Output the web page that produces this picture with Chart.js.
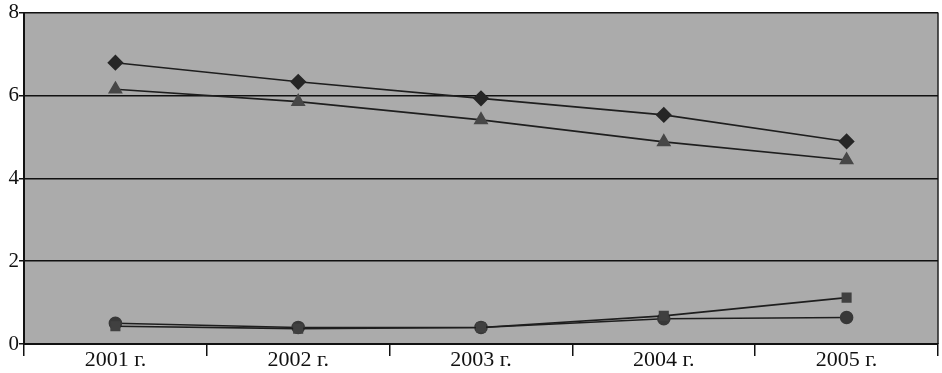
<!DOCTYPE html>
<html>
<head>
<meta charset="utf-8">
<script src="https://cdn.jsdelivr.net/npm/chart.js@4.4.0/dist/chart.umd.min.js"></script>
<style>
  html, body { margin: 0; padding: 0; background: #fff; }
  #wrap { width: 942px; height: 373px; }
</style>
</head>
<body>
<div id="wrap"><canvas id="lineChart" width="942" height="373"></canvas></div>
<script>
// data
const years = ["2001 г.", "2002 г.", "2003 г.", "2004 г.", "2005 г."];
const diamondSeries = [6.79, 6.33, 5.93, 5.53, 4.89];
const triangleSeries = [6.15, 5.85, 5.41, 4.88, 4.44];
const squareSeries = [0.43, 0.37, 0.4, 0.68, 1.12];
const circleSeries = [0.5, 0.4, 0.4, 0.61, 0.64];
const yTicks = [0, 2, 4, 6, 8];

/* grey plot area like the scan */
const plotBg = {
  id: 'plotBg',
  beforeDraw(chart) {
    const { ctx, chartArea: a } = chart;
    ctx.save();
    ctx.fillStyle = '#ababab';
    ctx.fillRect(a.left, a.top, a.right - a.left, a.bottom - a.top);
    ctx.strokeStyle = '#222';
    ctx.lineWidth = 1.5;
    ctx.beginPath();
    ctx.moveTo(a.right, a.top);
    ctx.lineTo(a.right, a.bottom);
    ctx.stroke();
    ctx.restore();
  }
};

const mkSet = (label, data, style, color, size) => ({
  label: label,
  data: data,
  borderColor: '#1e1e1e',
  borderWidth: 1.6,
  pointStyle: style,
  pointRadius: size,
  pointBackgroundColor: color,
  pointBorderColor: color,
  tension: 0
});

var ctx = document.getElementById('lineChart').getContext('2d');
new Chart(ctx, {
  type: 'line',
  data: {
    labels: years,
    datasets: [
      mkSet('diamond', diamondSeries, 'rectRot', '#262626', 7),
      mkSet('triangle', triangleSeries, 'triangle', '#474747', 7),
      mkSet('square', squareSeries, 'rect', '#404040', 6),
      mkSet('circle', circleSeries, 'circle', '#383838', 6)
    ]
  },
  options: {
    responsive: false,
    animation: false,
    layout: { autoPadding: false, padding: { top: 8, right: 4, left: 0, bottom: 0 } },
    plugins: { legend: { display: false }, tooltip: { enabled: false } },
    scales: {
      x: {
        offset: true,
        grid: { offset: true, drawOnChartArea: false, color: '#111', lineWidth: 1.5, tickLength: 12 },
        border: { color: '#111', width: 2 },
        ticks: { color: '#111', padding: -9, maxRotation: 0, font: { family: 'Liberation Serif', size: 22 } },
        afterFit: (s) => { s.height = 29; }
      },
      y: {
        min: 0,
        max: 8,
        afterBuildTicks: (s) => { s.ticks = yTicks.map(v => ({ value: v })); },
        grid: { color: '#111', lineWidth: 1.5, tickLength: 5 },
        border: { color: '#111', width: 2 },
        ticks: { color: '#111', padding: 0, font: { family: 'Liberation Serif', size: 21 } },
        afterFit: (s) => { s.width = 24; }
      }
    }
  },
  plugins: [plotBg]
});
</script>
</body>
</html>
